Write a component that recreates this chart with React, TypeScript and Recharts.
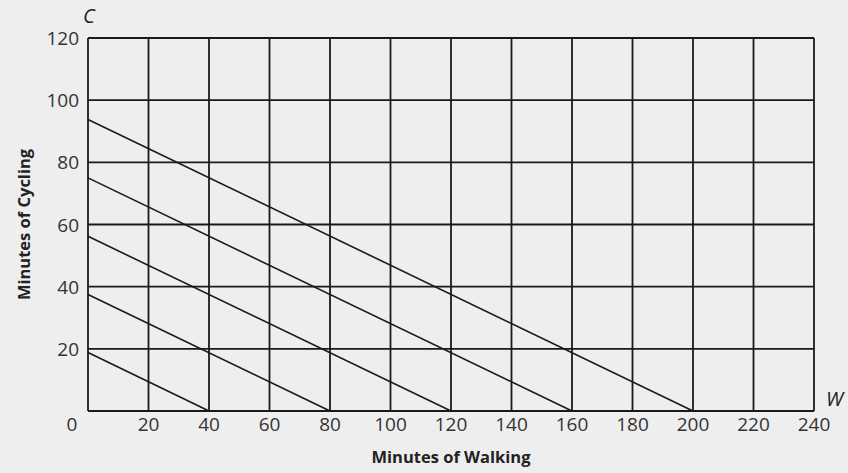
import React from 'react';
import { ComposedChart, Line, XAxis, YAxis, CartesianGrid, Label } from 'recharts';

const walkTicks = [0, 20, 40, 60, 80, 100, 120, 140, 160, 180, 200, 220, 240];
const cycleTicks = [0, 20, 40, 60, 80, 100, 120];

// each budget line runs from (0, cycleStart) down to (walkEnd, 0)
const cycleStart = [18.8, 37.5, 56.2, 75, 93.8];
const walkEnd = [40, 80, 120, 160, 200];

const budgetLines = walkEnd.map((w, i) => [
  { w: 0, c: cycleStart[i] },
  { w, c: 0 },
]);

const FONT = '"Open Sans", "DejaVu Sans", sans-serif';

const XTick = (props: any) => {
  const { x, y, payload } = props;
  const dx = payload.value === 0 ? -16 : 0;
  return (
    <text x={x + dx} y={y + 12} textAnchor="middle" fontFamily={FONT} fontSize={19} fill="#333">
      {payload.value}
    </text>
  );
};

const YTick = (props: any) => {
  const { x, y, payload } = props;
  if (payload.value === 0) return null;
  return (
    <text x={x - 1} y={y + 7} textAnchor="end" fontFamily={FONT} fontSize={19} fill="#333">
      {payload.value}
    </text>
  );
};

export default function App() {
  return (
    <div style={{ position: 'absolute', left: 0, top: 0, width: 848, height: 473, background: '#eeeeee' }}>
      <ComposedChart width={848} height={473} margin={{ top: 38, right: 34, bottom: 0, left: 0 }}>
        <CartesianGrid stroke="#1a1a1a" strokeWidth={1.8} horizontalValues={cycleTicks} verticalValues={walkTicks} />
        <XAxis
          type="number"
          dataKey="w"
          domain={[0, 240]}
          ticks={walkTicks}
          interval={0}
          height={62}
          axisLine={false}
          tickLine={false}
          tick={<XTick />}
        >
          <Label
            value="Minutes of Walking"
            position="insideBottom"
            offset={10}
            style={{ fontFamily: FONT, fontSize: 16.5, fontWeight: 700, fill: '#222' }}
          />
        </XAxis>
        <YAxis
          type="number"
          dataKey="c"
          domain={[0, 120]}
          ticks={cycleTicks}
          interval={0}
          width={88}
          axisLine={false}
          tickLine={false}
          tick={<YTick />}
        >
          <Label
            value="Minutes of Cycling"
            angle={-90}
            position="insideLeft"
            offset={24}
            style={{ fontFamily: FONT, fontSize: 16.5, fontWeight: 700, fill: '#222', textAnchor: 'middle' }}
          />
        </YAxis>
        {budgetLines.map((pts, i) => (
          <Line
            key={i}
            data={pts}
            dataKey="c"
            type="linear"
            stroke="#1a1a1a"
            strokeWidth={1.6}
            dot={false}
            activeDot={false}
            isAnimationActive={false}
          />
        ))}
      </ComposedChart>
      <div style={{ position: 'absolute', left: 83, top: 2, fontFamily: FONT, fontStyle: 'italic', fontSize: 20, color: '#222' }}>C</div>
      <div style={{ position: 'absolute', left: 826, top: 385, fontFamily: FONT, fontStyle: 'italic', fontSize: 20, color: '#222' }}>W</div>
    </div>
  );
}
